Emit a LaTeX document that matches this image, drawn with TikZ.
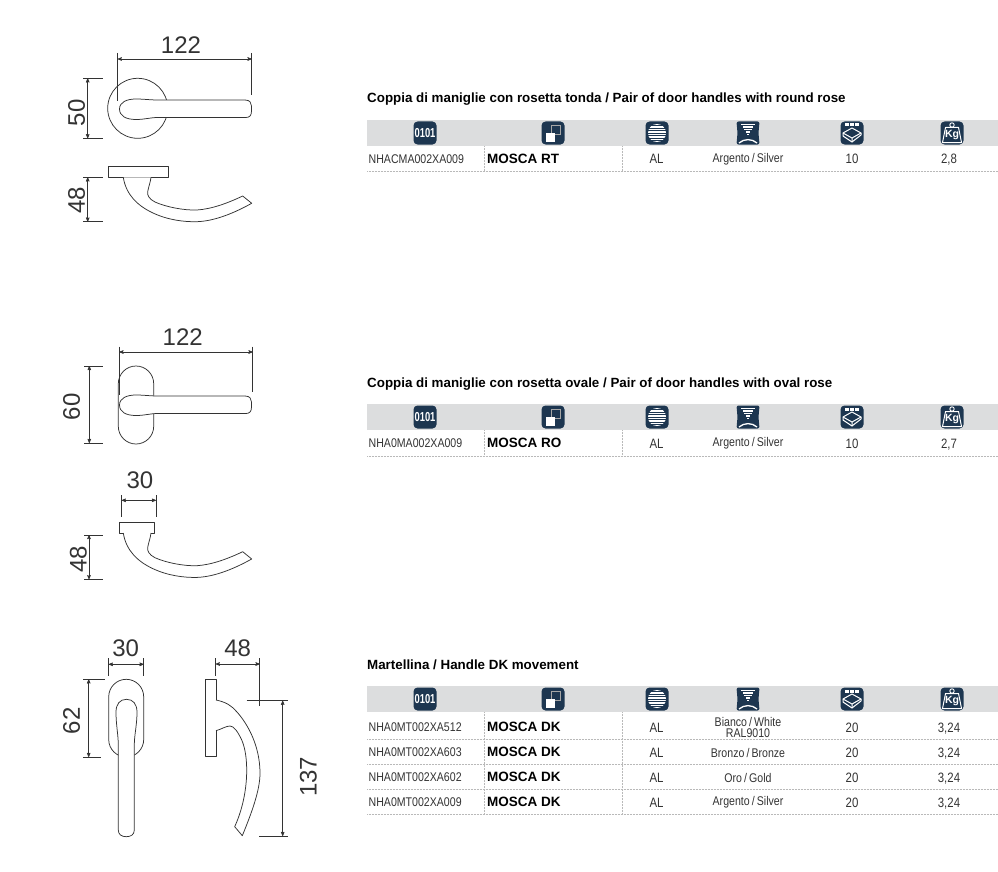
\documentclass[tikz,border=0pt]{standalone}
\usepackage{fontspec}
\usepackage{tikz}
\usepgflibrary{arrows}
\setmainfont{Liberation Sans}
\newfontfamily\narrowfont[FakeStretch=0.84]{Liberation Sans}
\newfontfamily\iconfont[FakeStretch=0.72]{Liberation Sans}
\definecolor{navy}{HTML}{1D3650}
\definecolor{headgray}{HTML}{DCDDDE}
\definecolor{ink}{HTML}{333333}
\tikzstyle{arr}=[<->,>=stealth',line width=0.6pt,color=ink]

% table icons, centred on (0,0)
\newcommand{\iconbox}{\fill[navy,rounded corners=4pt] (-11.5,-11.5) rectangle (11.5,11.5);}
\newcommand{\iconcode}[1]{\iconbox
  \node[text=white,font=\iconfont\bfseries\fontsize{13}{13}\selectfont,inner sep=0] (bits#1) at (0,0) {0101};}
\newcommand{\iconmodel}{\iconbox
  \draw[gray!70,line width=0.7pt] (-1.7,-7.3) rectangle (7.7,1.7);
  \fill[white] (-6.7,-0.3) rectangle (1.7,8.5);}
\newcommand{\iconmaterial}{\iconbox
  \fill[white] (0,0) circle (9);
  \foreach \s in {-7.5,-5,-2.5,0,2.5,5,7.5}
    \draw[navy,line width=0.6pt] (-10,\s) -- (10,\s);}
\newcommand{\iconfinish}{
  \fill[navy,rounded corners=2pt] (-11.5,-11.5) -- (11.5,-11.5) -- (10.5,0) -- (11.5,11.5)
    -- (-11.5,11.5) -- (-10.5,0) -- cycle;
  \foreach \s/\w in {-8.5/7,-6/5.2,-3.5/3.6,-1/2.2,1.5/1}
    \draw[white,line width=1.2pt] (-\w,\s) -- (\w,\s);
  \draw[white,line width=1.3pt] (-9,10) .. controls (-4,5.5) and (4,5.5) .. (9,10);}
\newcommand{\iconpack}{\iconbox
  \foreach \s in {-5,0,5}
    \fill[white] (\s-1.6,-9.5) rectangle (\s+1.6,-6.5);
  \draw[white,line width=1pt,line join=round] (0,-5) -- (9,0) -- (9,2) -- (0,9) -- (-9,3) -- (-9,0) -- cycle;
  \draw[white,line width=1pt,line join=round] (-9,0) -- (0,5) -- (9,0) (0,5) -- (0,9);}
\newcommand{\iconweight}[1]{\iconbox
  \draw[white,line width=0.9pt] (0,-8) circle (2.2);
  \draw[white,line width=1pt,line join=round] (-6.5,-5.5) -- (6.5,-5.5) -- (9.5,9.5) -- (-9.5,9.5) -- cycle;
  \node[text=white,font=\bfseries\fontsize{10.5}{10.5}\selectfont,inner sep=0] (kg#1) at (0,2) {Kg};}

\begin{document}
\begin{tikzpicture}[x=1pt,y=-1pt]
  \tikzstyle ol=[line width=0.75pt,color=ink,fill=white,line join=round];
  \tikzstyle ex=[line width=0.6pt,color=ink];
  \tikzstyle dimv=[font=\fontsize{24}{24}\selectfont,text=ink,inner sep=0];
  \tikzstyle dimr=[dimv,rotate=90];
  \tikzstyle title=[font=\bfseries\fontsize{13.35}{14}\selectfont,text=black,anchor=base west,inner sep=0];
  \tikzstyle code=[font=\narrowfont\fontsize{12.6}{13}\selectfont,text=ink,inner sep=0];
  \tikzstyle numv=[font=\narrowfont\fontsize{13.6}{14}\selectfont,text=ink,inner sep=0,anchor=base];
  \tikzstyle model=[font=\bfseries\fontsize{13.5}{14}\selectfont,text=black,anchor=base west,inner sep=0];
  \tikzstyle dot=[gray!55,line width=0.5pt,densely dotted];
  \def\levertop{
    \draw[ol] (119.5,109) .. controls (119.5,102) and (127,99) .. (136,99)
      .. controls (144,99) and (150,100) .. (158,100) -- (245,100)
      .. controls (250,100) and (251.5,103) .. (251.5,106) -- (251.5,111)
      .. controls (251.5,115) and (250,117.5) .. (246,117.5) -- (158,117.5)
      .. controls (150,117.5) and (145,119.5) .. (136,119.5)
      .. controls (126,119.5) and (119.5,116) .. (119.5,109) -- cycle;}
  \def\leverside{
    \draw[ol] (123.3,177.3) .. controls (126,195) and (138,206) .. (153,213)
      .. controls (168,220) and (184,222) .. (197,221.7)
      .. controls (216,221) and (236,212) .. (251.7,203.3) -- (242.7,196)
      .. controls (228,203) and (212,209) .. (197,210)
      .. controls (184,210.5) and (166,207) .. (155,202)
      .. controls (149,199) and (147,195) .. (147.7,191.7)
      .. controls (148.5,187) and (150.5,182) .. (151,177.3);}

  \useasboundingbox (0,0) rectangle (998,872);

  % round rose
  \draw[ol] (137.7,108.3) circle (30);
  \levertop
  \draw[ol] (108,166) rectangle (168.3,177.3);
  \leverside
  \draw[ex] (117.7,53) -- (117.7,101);
  \draw[ex] (251.7,53) -- (251.7,95);
  \draw[arr] (117.7,59) -- (251.7,59);
  \node[dimv] (wide1) at (181,45) {122};
  \draw[ex] (83,78.3) -- (102.5,78.3);
  \draw[ex] (83,138.3) -- (102.5,138.3);
  \draw[arr] (87.7,78.3) -- (87.7,138.3);
  \node[dimr] (high1) at (76.7,112.7) {50};
  \draw[ex] (83,177.3) -- (102.5,177.3);
  \draw[ex] (83,221.7) -- (102.5,221.7);
  \draw[arr] (87.7,177.3) -- (87.7,221.7);
  \node[dimr] (depth1) at (76.7,200) {48};

  % oval rose
  \draw[ol] (118.3,383.7) arc (180:360:17.7) -- (153.7,426.3) arc (0:180:17.7) -- cycle;
  \begin{scope}[shift={(0,296)}]
    \levertop
  \end{scope}
  \draw[ol] (119.7,522.3) rectangle (154.7,533);
  \begin{scope}[shift={(0,355.7)}]
    \leverside
  \end{scope}
  \draw[ex] (119.3,346.7) -- (119.3,395);
  \draw[ex] (252.7,346.7) -- (252.7,391.7);
  \draw[arr] (119.3,352) -- (252.7,352);
  \node[dimv] (wide2) at (182.7,337.3) {122};
  \draw[ex] (84,366) -- (103.3,366);
  \draw[ex] (84,443) -- (103.3,443);
  \draw[arr] (89.3,366) -- (89.3,443);
  \node[dimr] (high2) at (71.7,406.7) {60};
  \draw[ex] (121.7,495) -- (121.7,517.3);
  \draw[ex] (156,495) -- (156,517.3);
  \draw[arr] (121.7,500.3) -- (156,500.3);
  \node[dimv] (wide3) at (140,480) {30};
  \draw[ex] (84,535) -- (103.3,535);
  \draw[ex] (84,579.3) -- (103.3,579.3);
  \draw[arr] (89,535) -- (89,579.3);
  \node[dimr] (depth2) at (78.3,559.3) {48};

  % dk handle
  \draw[ol] (108.7,696.8) arc (180:360:17.5) -- (143.7,739.5) arc (0:180:17.5) -- cycle;
  \draw[ol] (118.3,830) -- (118.3,745) .. controls (118.3,735) and (116,725) .. (116,712)
    .. controls (116,704) and (120,699.3) .. (126.5,699.3)
    .. controls (133,699.3) and (137,704) .. (137,712)
    .. controls (137,725) and (134.3,735) .. (134.3,745) -- (134.3,830)
    .. controls (134.3,834.5) and (131,836.7) .. (126.3,836.7)
    .. controls (121.5,836.7) and (118.3,834.5) .. (118.3,830) -- cycle;
  \draw[ol] (205,679.3) rectangle (216,756.7);
  \draw[ol] (216,700) .. controls (226,702) and (232,706) .. (236.7,711.7)
    .. controls (247,723) and (260,745) .. (260,773.3)
    .. controls (260,790) and (252,812) .. (242.3,835.7) -- (234.7,826.7)
    .. controls (240,815) and (246.7,795) .. (246.7,770)
    .. controls (246.7,755) and (244,745) .. (241.7,740)
    .. controls (238,732) and (234,726) .. (230,726)
    .. controls (226,726) and (222,729) .. (216,730.7);
  \draw[ex] (108.7,658) -- (108.7,676);
  \draw[ex] (143.7,658) -- (143.7,676);
  \draw[arr] (108.7,664.3) -- (143.7,664.3);
  \node[dimv] (wide4) at (125.7,648.3) {30};
  \draw[ex] (83.3,679.3) -- (105,679.3);
  \draw[ex] (83.3,757) -- (100.7,757);
  \draw[arr] (88.7,679.3) -- (88.7,757);
  \node[dimr] (high3) at (71.7,720.7) {62};
  \draw[ex] (215.7,658) -- (215.7,676);
  \draw[ex] (259.7,658) -- (259.7,706);
  \draw[arr] (215.7,664) -- (259.7,664);
  \node[dimv] (depth3) at (237.7,648.3) {48};
  \draw[ex] (246.7,700.7) -- (288.3,700.7);
  \draw[ex] (259,836) -- (288.3,836);
  \draw[arr] (282.7,700.7) -- (282.7,836);
  \node[dimr] (high4) at (308.3,776.7) {137};

  % titles
  \node[title] (title1) at (367,103) {Coppia di maniglie con rosetta tonda / Pair of door handles with round rose};
  \node[title] (title2) at (367,387) {Coppia di maniglie con rosetta ovale / Pair of door handles with oval rose};
  \node[title] (title3) at (367,669) {Martellina / Handle DK movement};

  % table headers
  \foreach \t/\b in {120/171,404/456,686/814} {
    \fill[headgray] (367,\t) rectangle (998,\t+26);
    \begin{scope}[shift={(425,\t+13)}]\iconcode{\t}\end{scope}
    \begin{scope}[shift={(553,\t+13)}]\iconmodel\end{scope}
    \begin{scope}[shift={(657,\t+13)}]\iconmaterial\end{scope}
    \begin{scope}[shift={(748,\t+13)}]\iconfinish\end{scope}
    \begin{scope}[shift={(852,\t+13)}]\iconpack\end{scope}
    \begin{scope}[shift={(952,\t+13)}]\iconweight{\t}\end{scope}
    \draw[dot] (484.5,\t+26) -- (484.5,\b);
    \draw[dot] (622,\t+26) -- (622,\b);
  }

  % table rows
  \foreach \y/\l/\c/\m/\f/\q/\k in {
    159/171/NHACMA002XA009/MOSCA RT/{Argento\,/\,Silver}/10/{2,8},
    443/456/NHA0MA002XA009/MOSCA RO/{Argento\,/\,Silver}/10/{2,7},
    727/739/NHA0MT002XA512/MOSCA DK/{\shortstack{Bianco\,/\,White\\[-0.5pt]RAL9010}}/20/{3,24},
    752/764/NHA0MT002XA603/MOSCA DK/{Bronzo\,/\,Bronze}/20/{3,24},
    777/789/NHA0MT002XA602/MOSCA DK/{Oro\,/\,Gold}/20/{3,24},
    802/814/NHA0MT002XA009/MOSCA DK/{Argento\,/\,Silver}/20/{3,24}} {
    \node[code,anchor=base west] (code\y) at (368.5,\y+4.5) {\c};
    \node[model] (model\y) at (487,\y+4.5) {\m};
    \node[numv] (alloy\y) at (656.5,\y+5) {AL};
    \node[code,anchor=center] (finish\y) at (748,\y+0.7) {\f};
    \node[numv] (pack\y) at (852,\y+5) {\q};
    \node[numv] (weight\y) at (949,\y+5) {\k};
    \draw[dot] (367,\l) -- (998,\l);
  }
\end{tikzpicture}
\end{document}
